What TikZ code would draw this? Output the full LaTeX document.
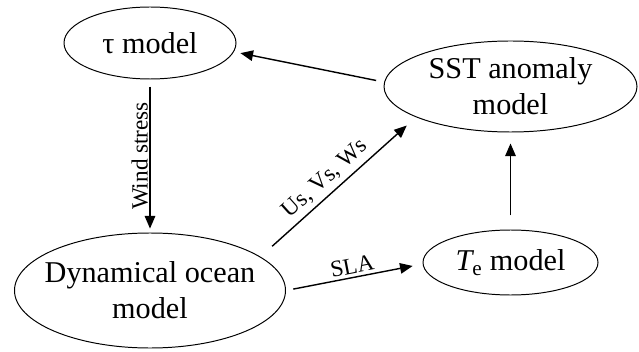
\documentclass[tikz,border=0pt]{standalone}
\usepackage{fontspec}
\setmainfont{Liberation Serif}
\usetikzlibrary{shapes.geometric, arrows.meta}

\begin{document}
\begin{tikzpicture}[
    model/.style={ellipse, draw, line width=0.7pt, inner sep=0pt, align=center,
        font=\fontsize{21.5}{25.5}\selectfont},
    flow/.style={-{Triangle[length=9pt, width=7.5pt]}, line width=1pt},
    flow_label/.style={font=\fontsize{16.5}{19}\selectfont}
]
    \useasboundingbox (0,0) rectangle (15.975,8.775);
    % Models
    \node[model, minimum width=4.3cm, minimum height=1.8cm] (tau) at (3.75,7.7) {τ model};
    \node[model, minimum width=6.325cm, minimum height=2.275cm] (sst) at (12.7625,6.6125) {SST anomaly\\model};
    \node[model, minimum width=6.775cm, minimum height=2.875cm, inner xsep=-14pt] (ocean) at (3.75,1.5125) {Dynamical ocean\\model};
    \node[model, minimum width=4.375cm, minimum height=1.625cm] (te) at (12.7625,2.2125) {{\itshape T}\textsubscript{e} model};
    % Couplings
    \draw[flow, shorten <=5.8pt, shorten >=4.7pt] (sst.178) -- (tau.-6);
    \draw[flow, shorten <=5pt, shorten >=2.8pt] (tau.south) -- node[flow_label, midway, rotate=90, anchor=south, inner sep=1pt] {Wind stress} (ocean.north);
    \draw[flow, shorten <=11.1pt, shorten >=8.8pt] (ocean.17) -- node[flow_label, pos=0.48, sloped, above] {Us, Vs, Ws} (sst.198);
    \draw[flow, shorten <=5.3pt, shorten >=7.2pt] (ocean.east) -- node[flow_label, midway, sloped, above, inner sep=2pt] {SLA} (te.181);
    \draw[flow, shorten <=10pt, shorten >=7.8pt] (te.north) -- (sst.south);
\end{tikzpicture}
\end{document}
